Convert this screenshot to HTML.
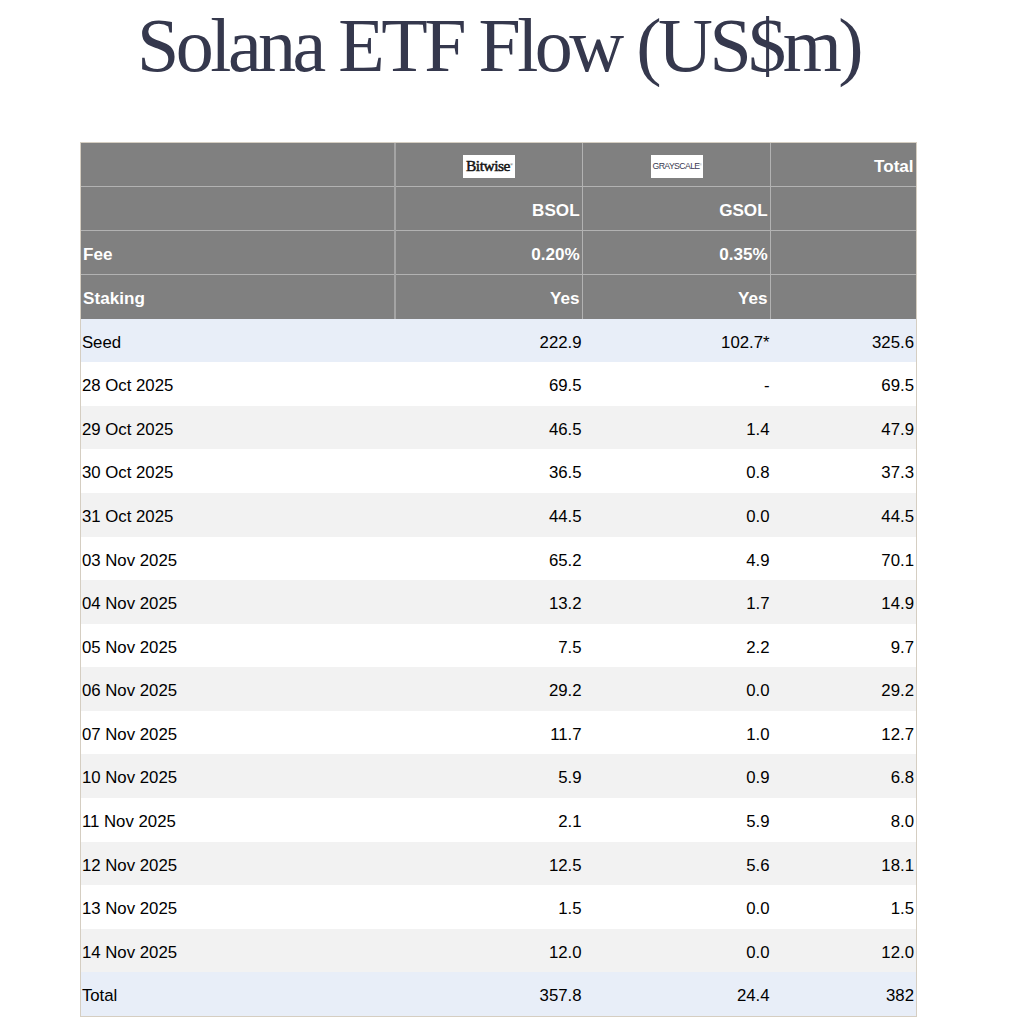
<!DOCTYPE html>
<html><head><meta charset="utf-8"><title>Solana ETF Flow</title>
<style>
html,body{margin:0;padding:0;background:#fff;}
body{width:1024px;height:1024px;overflow:hidden;position:relative;font-family:"Liberation Sans",sans-serif;}
.t{position:absolute;left:137px;top:7px;font-family:"Liberation Serif",serif;font-size:76px;letter-spacing:-3.5px;color:#35384d;white-space:nowrap;line-height:1}
.c{position:absolute;font-size:16.8px;white-space:nowrap;color:#000}
.h{color:#fff;font-weight:bold;font-size:17.1px}
.r{position:absolute}
</style></head><body>
<div class="t">Solana ETF Flow (US$m)</div>
<div class="r" style="left:80px;top:142px;width:837px;height:875px;background:#d5cec2"></div>
<div class="r" style="left:81px;top:143px;width:835px;height:176px;background:#808080"></div>
<div class="r" style="left:81px;top:186px;width:835px;height:1px;background:#b2b2b2"></div>
<div class="r" style="left:81px;top:230px;width:835px;height:1px;background:#b2b2b2"></div>
<div class="r" style="left:81px;top:274px;width:835px;height:1px;background:#b2b2b2"></div>
<div class="r" style="left:394px;top:143px;width:2px;height:176px;background:#a4a4a4"></div>
<div class="r" style="left:582px;top:143px;width:1px;height:176px;background:#b2b2b2"></div>
<div class="r" style="left:770px;top:143px;width:1px;height:176px;background:#b2b2b2"></div>
<div class="r" style="left:81px;top:319px;width:835px;height:43px;background:#e8eef8"></div>
<div class="r" style="left:81px;top:362px;width:835px;height:44px;background:#ffffff"></div>
<div class="r" style="left:81px;top:406px;width:835px;height:43px;background:#f2f2f2"></div>
<div class="r" style="left:81px;top:449px;width:835px;height:44px;background:#ffffff"></div>
<div class="r" style="left:81px;top:493px;width:835px;height:44px;background:#f2f2f2"></div>
<div class="r" style="left:81px;top:537px;width:835px;height:43px;background:#ffffff"></div>
<div class="r" style="left:81px;top:580px;width:835px;height:44px;background:#f2f2f2"></div>
<div class="r" style="left:81px;top:624px;width:835px;height:43px;background:#ffffff"></div>
<div class="r" style="left:81px;top:667px;width:835px;height:44px;background:#f2f2f2"></div>
<div class="r" style="left:81px;top:711px;width:835px;height:43px;background:#ffffff"></div>
<div class="r" style="left:81px;top:754px;width:835px;height:44px;background:#f2f2f2"></div>
<div class="r" style="left:81px;top:798px;width:835px;height:44px;background:#ffffff"></div>
<div class="r" style="left:81px;top:842px;width:835px;height:43px;background:#f2f2f2"></div>
<div class="r" style="left:81px;top:885px;width:835px;height:44px;background:#ffffff"></div>
<div class="r" style="left:81px;top:929px;width:835px;height:43px;background:#f2f2f2"></div>
<div class="r" style="left:81px;top:972px;width:835px;height:44px;background:#e8eef8"></div>
<div class="c " style="left:81.90px;width:312.60px;text-align:left;top:320.80px;height:43.56px;line-height:43.56px">Seed</div>
<div class="c " style="left:394.50px;width:187.10px;text-align:right;top:320.80px;height:43.56px;line-height:43.56px">222.9</div>
<div class="c " style="left:582.00px;width:187.60px;text-align:right;top:320.80px;height:43.56px;line-height:43.56px">102.7*</div>
<div class="c " style="left:770.00px;width:144.00px;text-align:right;top:320.80px;height:43.56px;line-height:43.56px">325.6</div>
<div class="c " style="left:81.90px;width:312.60px;text-align:left;top:364.36px;height:43.56px;line-height:43.56px">28 Oct 2025</div>
<div class="c " style="left:394.50px;width:187.10px;text-align:right;top:364.36px;height:43.56px;line-height:43.56px">69.5</div>
<div class="c " style="left:582.00px;width:187.60px;text-align:right;top:364.36px;height:43.56px;line-height:43.56px">-</div>
<div class="c " style="left:770.00px;width:144.00px;text-align:right;top:364.36px;height:43.56px;line-height:43.56px">69.5</div>
<div class="c " style="left:81.90px;width:312.60px;text-align:left;top:407.92px;height:43.56px;line-height:43.56px">29 Oct 2025</div>
<div class="c " style="left:394.50px;width:187.10px;text-align:right;top:407.92px;height:43.56px;line-height:43.56px">46.5</div>
<div class="c " style="left:582.00px;width:187.60px;text-align:right;top:407.92px;height:43.56px;line-height:43.56px">1.4</div>
<div class="c " style="left:770.00px;width:144.00px;text-align:right;top:407.92px;height:43.56px;line-height:43.56px">47.9</div>
<div class="c " style="left:81.90px;width:312.60px;text-align:left;top:451.48px;height:43.56px;line-height:43.56px">30 Oct 2025</div>
<div class="c " style="left:394.50px;width:187.10px;text-align:right;top:451.48px;height:43.56px;line-height:43.56px">36.5</div>
<div class="c " style="left:582.00px;width:187.60px;text-align:right;top:451.48px;height:43.56px;line-height:43.56px">0.8</div>
<div class="c " style="left:770.00px;width:144.00px;text-align:right;top:451.48px;height:43.56px;line-height:43.56px">37.3</div>
<div class="c " style="left:81.90px;width:312.60px;text-align:left;top:495.04px;height:43.56px;line-height:43.56px">31 Oct 2025</div>
<div class="c " style="left:394.50px;width:187.10px;text-align:right;top:495.04px;height:43.56px;line-height:43.56px">44.5</div>
<div class="c " style="left:582.00px;width:187.60px;text-align:right;top:495.04px;height:43.56px;line-height:43.56px">0.0</div>
<div class="c " style="left:770.00px;width:144.00px;text-align:right;top:495.04px;height:43.56px;line-height:43.56px">44.5</div>
<div class="c " style="left:81.90px;width:312.60px;text-align:left;top:538.60px;height:43.56px;line-height:43.56px">03 Nov 2025</div>
<div class="c " style="left:394.50px;width:187.10px;text-align:right;top:538.60px;height:43.56px;line-height:43.56px">65.2</div>
<div class="c " style="left:582.00px;width:187.60px;text-align:right;top:538.60px;height:43.56px;line-height:43.56px">4.9</div>
<div class="c " style="left:770.00px;width:144.00px;text-align:right;top:538.60px;height:43.56px;line-height:43.56px">70.1</div>
<div class="c " style="left:81.90px;width:312.60px;text-align:left;top:582.16px;height:43.56px;line-height:43.56px">04 Nov 2025</div>
<div class="c " style="left:394.50px;width:187.10px;text-align:right;top:582.16px;height:43.56px;line-height:43.56px">13.2</div>
<div class="c " style="left:582.00px;width:187.60px;text-align:right;top:582.16px;height:43.56px;line-height:43.56px">1.7</div>
<div class="c " style="left:770.00px;width:144.00px;text-align:right;top:582.16px;height:43.56px;line-height:43.56px">14.9</div>
<div class="c " style="left:81.90px;width:312.60px;text-align:left;top:625.72px;height:43.56px;line-height:43.56px">05 Nov 2025</div>
<div class="c " style="left:394.50px;width:187.10px;text-align:right;top:625.72px;height:43.56px;line-height:43.56px">7.5</div>
<div class="c " style="left:582.00px;width:187.60px;text-align:right;top:625.72px;height:43.56px;line-height:43.56px">2.2</div>
<div class="c " style="left:770.00px;width:144.00px;text-align:right;top:625.72px;height:43.56px;line-height:43.56px">9.7</div>
<div class="c " style="left:81.90px;width:312.60px;text-align:left;top:669.28px;height:43.56px;line-height:43.56px">06 Nov 2025</div>
<div class="c " style="left:394.50px;width:187.10px;text-align:right;top:669.28px;height:43.56px;line-height:43.56px">29.2</div>
<div class="c " style="left:582.00px;width:187.60px;text-align:right;top:669.28px;height:43.56px;line-height:43.56px">0.0</div>
<div class="c " style="left:770.00px;width:144.00px;text-align:right;top:669.28px;height:43.56px;line-height:43.56px">29.2</div>
<div class="c " style="left:81.90px;width:312.60px;text-align:left;top:712.84px;height:43.56px;line-height:43.56px">07 Nov 2025</div>
<div class="c " style="left:394.50px;width:187.10px;text-align:right;top:712.84px;height:43.56px;line-height:43.56px">11.7</div>
<div class="c " style="left:582.00px;width:187.60px;text-align:right;top:712.84px;height:43.56px;line-height:43.56px">1.0</div>
<div class="c " style="left:770.00px;width:144.00px;text-align:right;top:712.84px;height:43.56px;line-height:43.56px">12.7</div>
<div class="c " style="left:81.90px;width:312.60px;text-align:left;top:756.40px;height:43.56px;line-height:43.56px">10 Nov 2025</div>
<div class="c " style="left:394.50px;width:187.10px;text-align:right;top:756.40px;height:43.56px;line-height:43.56px">5.9</div>
<div class="c " style="left:582.00px;width:187.60px;text-align:right;top:756.40px;height:43.56px;line-height:43.56px">0.9</div>
<div class="c " style="left:770.00px;width:144.00px;text-align:right;top:756.40px;height:43.56px;line-height:43.56px">6.8</div>
<div class="c " style="left:81.90px;width:312.60px;text-align:left;top:799.96px;height:43.56px;line-height:43.56px">11 Nov 2025</div>
<div class="c " style="left:394.50px;width:187.10px;text-align:right;top:799.96px;height:43.56px;line-height:43.56px">2.1</div>
<div class="c " style="left:582.00px;width:187.60px;text-align:right;top:799.96px;height:43.56px;line-height:43.56px">5.9</div>
<div class="c " style="left:770.00px;width:144.00px;text-align:right;top:799.96px;height:43.56px;line-height:43.56px">8.0</div>
<div class="c " style="left:81.90px;width:312.60px;text-align:left;top:843.52px;height:43.56px;line-height:43.56px">12 Nov 2025</div>
<div class="c " style="left:394.50px;width:187.10px;text-align:right;top:843.52px;height:43.56px;line-height:43.56px">12.5</div>
<div class="c " style="left:582.00px;width:187.60px;text-align:right;top:843.52px;height:43.56px;line-height:43.56px">5.6</div>
<div class="c " style="left:770.00px;width:144.00px;text-align:right;top:843.52px;height:43.56px;line-height:43.56px">18.1</div>
<div class="c " style="left:81.90px;width:312.60px;text-align:left;top:887.08px;height:43.56px;line-height:43.56px">13 Nov 2025</div>
<div class="c " style="left:394.50px;width:187.10px;text-align:right;top:887.08px;height:43.56px;line-height:43.56px">1.5</div>
<div class="c " style="left:582.00px;width:187.60px;text-align:right;top:887.08px;height:43.56px;line-height:43.56px">0.0</div>
<div class="c " style="left:770.00px;width:144.00px;text-align:right;top:887.08px;height:43.56px;line-height:43.56px">1.5</div>
<div class="c " style="left:81.90px;width:312.60px;text-align:left;top:930.64px;height:43.56px;line-height:43.56px">14 Nov 2025</div>
<div class="c " style="left:394.50px;width:187.10px;text-align:right;top:930.64px;height:43.56px;line-height:43.56px">12.0</div>
<div class="c " style="left:582.00px;width:187.60px;text-align:right;top:930.64px;height:43.56px;line-height:43.56px">0.0</div>
<div class="c " style="left:770.00px;width:144.00px;text-align:right;top:930.64px;height:43.56px;line-height:43.56px">12.0</div>
<div class="c " style="left:81.90px;width:312.60px;text-align:left;top:974.20px;height:43.56px;line-height:43.56px">Total</div>
<div class="c " style="left:394.50px;width:187.10px;text-align:right;top:974.20px;height:43.56px;line-height:43.56px">357.8</div>
<div class="c " style="left:582.00px;width:187.60px;text-align:right;top:974.20px;height:43.56px;line-height:43.56px">24.4</div>
<div class="c " style="left:770.00px;width:144.00px;text-align:right;top:974.20px;height:43.56px;line-height:43.56px">382</div>
<div class="c h" style="left:770.00px;width:143.60px;text-align:right;top:144.50px;height:44.00px;line-height:44.00px">Total</div>
<div class="c h" style="left:394.50px;width:185.10px;text-align:right;top:188.50px;height:44.30px;line-height:44.30px">BSOL</div>
<div class="c h" style="left:582.00px;width:185.60px;text-align:right;top:188.50px;height:44.30px;line-height:44.30px">GSOL</div>
<div class="c h" style="left:83.10px;width:311.40px;text-align:left;top:232.80px;height:44.00px;line-height:44.00px">Fee</div>
<div class="c h" style="left:394.50px;width:185.10px;text-align:right;top:232.80px;height:44.00px;line-height:44.00px">0.20%</div>
<div class="c h" style="left:582.00px;width:185.60px;text-align:right;top:232.80px;height:44.00px;line-height:44.00px">0.35%</div>
<div class="c h" style="left:83.10px;width:311.40px;text-align:left;top:276.80px;height:44.00px;line-height:44.00px">Staking</div>
<div class="c h" style="left:394.50px;width:185.10px;text-align:right;top:276.80px;height:44.00px;line-height:44.00px">Yes</div>
<div class="c h" style="left:582.00px;width:185.60px;text-align:right;top:276.80px;height:44.00px;line-height:44.00px">Yes</div>
<div class="r" style="left:463px;top:155px;width:52px;height:23px;background:#fff"></div>
<div class="r" style="left:466px;top:154px;height:23px;font-family:'Liberation Serif',serif;font-size:15.5px;line-height:23px;color:#141414;-webkit-text-stroke:0.5px #141414;letter-spacing:-0.5px;white-space:nowrap">Bitwise<span style="font-size:4px;line-height:0;vertical-align:5px;-webkit-text-stroke:0">&reg;</span></div>
<div class="r" style="left:651px;top:155px;width:52px;height:23px;background:#fff"></div>
<div class="r" style="left:652.5px;top:155px;height:23px;font-family:'Liberation Sans',sans-serif;font-size:8.7px;line-height:23px;color:#3a3a52;letter-spacing:-0.6px;white-space:nowrap">GRAYSCALE<span style="font-size:3px;line-height:0;vertical-align:3px;-webkit-text-stroke:0;color:#777">&reg;</span></div>
</body></html>
